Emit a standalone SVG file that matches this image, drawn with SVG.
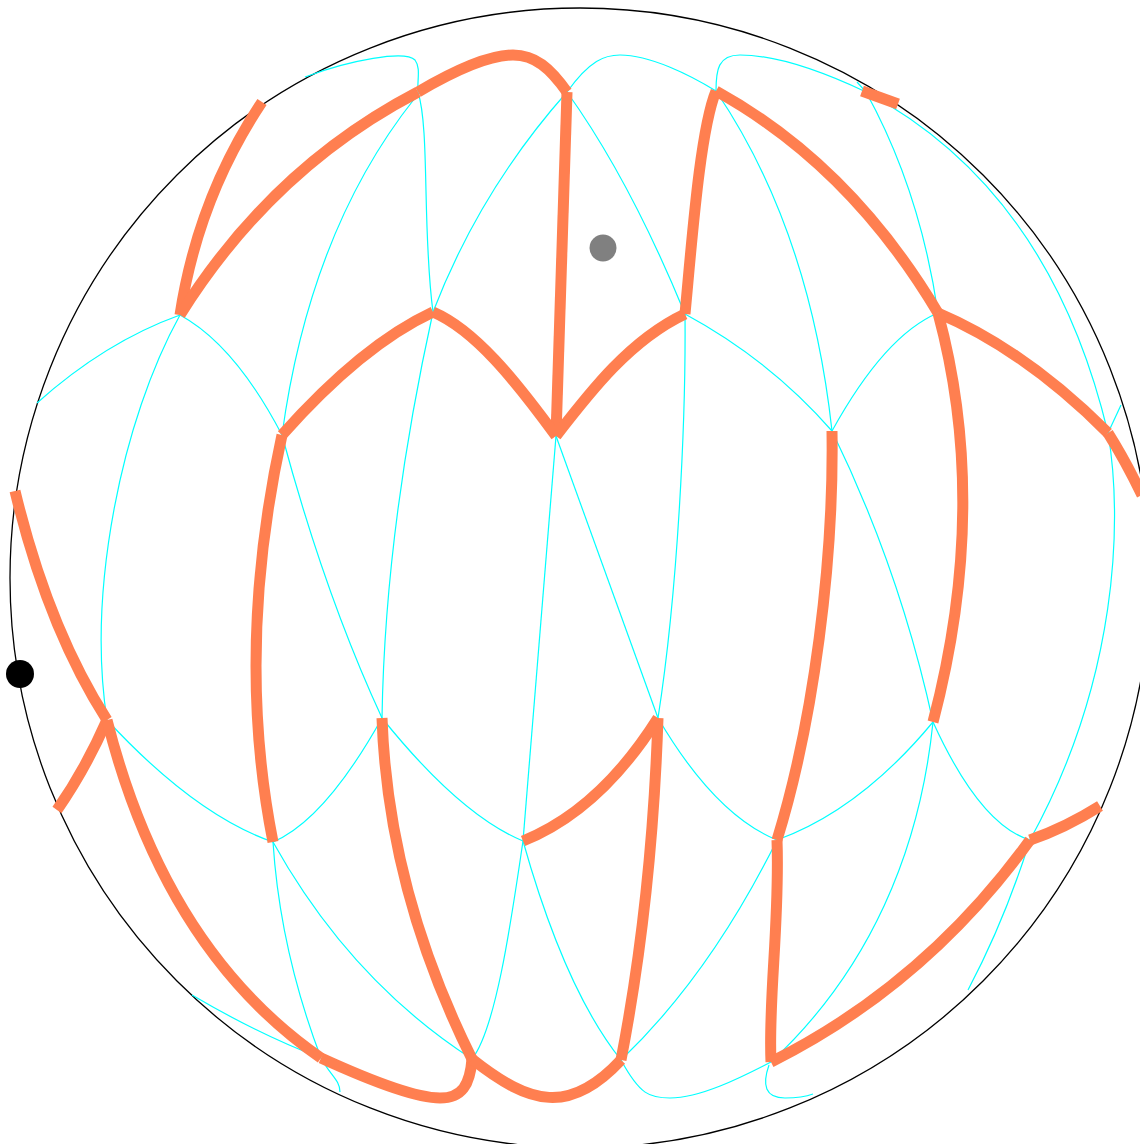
<svg xmlns="http://www.w3.org/2000/svg" width="1140" height="1144" viewBox="0 0 1140 1144">
<style>
.c{fill:none;stroke:#00ffff;stroke-width:1.2}
.o{fill:none;stroke:#ff7f50;stroke-width:11}
</style>
<rect width="1140" height="1144" fill="#fff"/>
<circle id="outline" cx="580" cy="578" r="570" fill="none" stroke="#000" stroke-width="1.3"/>
<g id="thin-lines">
<path class="c" d="M305 77C350 60 405 50 415 60C421 68 417 80 418 92"/>
<path class="c" d="M418 92C430 130 422 230 433 312"/>
<path class="c" d="M415 98Q310 230 282 435"/>
<path class="c" d="M567 92Q480 190 433 312"/>
<path class="c" d="M567 92Q630 180 685 314"/>
<path class="c" d="M567 92C590 60 605 55 620 55C650 55 690 75 716 91"/>
<path class="c" d="M716 91C716 70 718 55 740 55C780 55 830 75 866 92"/>
<path class="c" d="M716 91Q810 230 832 431"/>
<path class="c" d="M857 82L866 92Q920 190 938 313"/>
<path class="c" d="M866 92Q1050 190 1108 433"/>
<path class="c" d="M1108 433C1123 520 1118 680 1030 840"/>
<path class="c" d="M1108 433L1121 405"/>
<path class="c" d="M180 315Q105 342 37 403"/>
<path class="c" d="M180 315C122 420 87 590 107 720"/>
<path class="c" d="M180 315Q235 345 282 435"/>
<path class="c" d="M282 435Q325 595 382 718"/>
<path class="c" d="M433 312Q385 530 382 718"/>
<path class="c" d="M556 436L658 718"/>
<path class="c" d="M556 436L523 841"/>
<path class="c" d="M685 314C686 420 678 590 658 718"/>
<path class="c" d="M685 314Q770 360 832 431"/>
<path class="c" d="M832 431Q885 335 938 313"/>
<path class="c" d="M832 431Q900 570 933 722"/>
<path class="c" d="M933 722Q860 810 777 840"/>
<path class="c" d="M933 722Q980 825 1030 840"/>
<path class="c" d="M933 722C920 850 870 970 771 1062"/>
<path class="c" d="M658 718Q715 815 777 840"/>
<path class="c" d="M382 718Q460 815 523 841"/>
<path class="c" d="M382 718Q325 820 273 842"/>
<path class="c" d="M107 720Q195 815 273 842"/>
<path class="c" d="M273 842Q350 980 472 1059"/>
<path class="c" d="M273 842Q280 950 321 1058C330 1075 340 1080 340 1092"/>
<path class="c" d="M192 995Q260 1035 321 1058"/>
<path class="c" d="M523 841C510 930 495 1030 472 1059"/>
<path class="c" d="M523 841Q565 990 621 1060"/>
<path class="c" d="M777 840Q710 975 621 1060"/>
<path class="c" d="M621 1060C640 1095 650 1098 670 1098C700 1098 740 1078 771 1062"/>
<path class="c" d="M769 1065C762 1085 765 1098 785 1098C795 1098 805 1097 813 1094"/>
<path class="c" d="M1030 840Q1005 920 968 990"/>
</g>
<g id="thick-lines">
<path class="o" d="M262 102Q198 198 180 315"/>
<path class="o" d="M180 315Q272 168 418 92"/>
<path class="o" d="M418 92C452 72 488 55 513 55C535 55 550 68 567 92"/>
<path class="o" d="M567 92L556 436"/>
<path class="o" d="M282 435Q362 345 433 312"/>
<path class="o" d="M433 312C475 330 515 380 556 436"/>
<path class="o" d="M556 436C590 392 630 340 685 314"/>
<path class="o" d="M685 314C692 240 700 130 716 91"/>
<path class="o" d="M716 91Q850 165 938 313"/>
<path class="o" d="M938 313Q1025 350 1108 433"/>
<path class="o" d="M1108 433Q1125 460 1142 495"/>
<path class="o" d="M938 313Q990 505 933 722"/>
<path class="o" d="M832 431C834 560 814 720 777 840"/>
<path class="o" d="M777 840C780 920 768 1000 771 1062"/>
<path class="o" d="M771 1062Q925 985 1030 840"/>
<path class="o" d="M1030 840Q1065 828 1100 806"/>
<path class="o" d="M862 91L898 104"/>
<path class="o" d="M15 491Q48 628 107 720"/>
<path class="o" d="M107 720Q85 770 57 810"/>
<path class="o" d="M282 435Q235 650 273 842"/>
<path class="o" d="M107 720Q165 950 321 1058"/>
<path class="o" d="M321 1058C380 1085 420 1098 440 1098C462 1098 470 1085 472 1059"/>
<path class="o" d="M472 1059C530 1105 570 1115 621 1060"/>
<path class="o" d="M621 1060Q652 900 658 718"/>
<path class="o" d="M658 718Q600 810 523 841"/>
<path class="o" d="M382 718Q388 890 472 1059"/>
</g>
<circle id="grey-dot" cx="603" cy="248" r="13.5" fill="#808080"/>
<circle id="black-dot" cx="20" cy="674" r="14" fill="#000"/>
</svg>
